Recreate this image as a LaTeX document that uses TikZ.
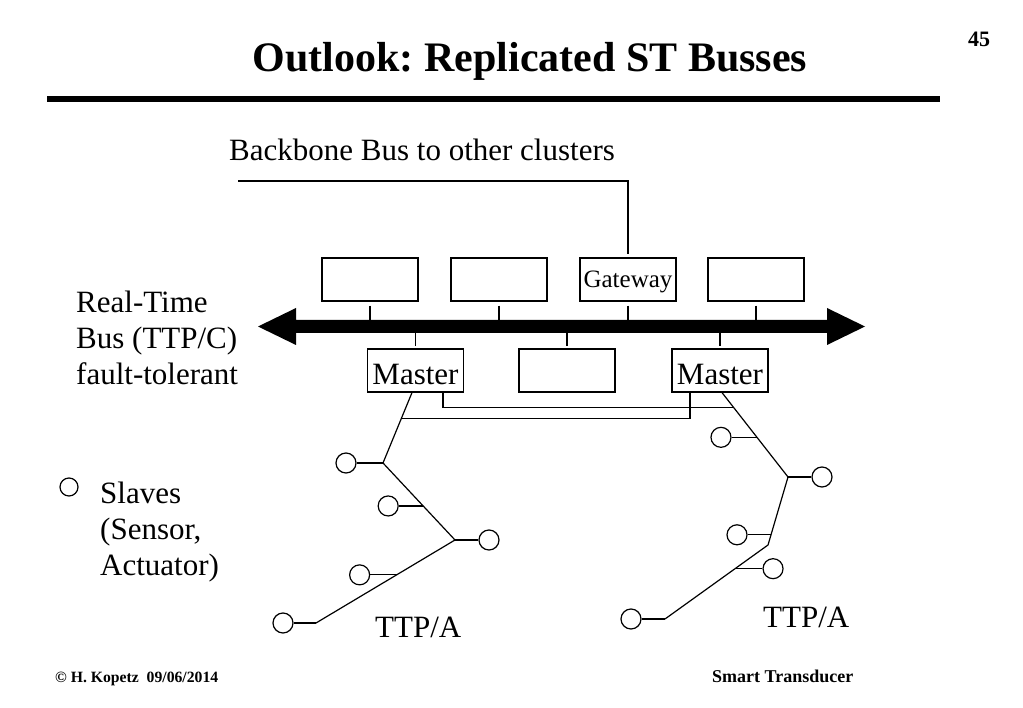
\documentclass[tikz,border=0pt]{standalone}
\usepackage{fontspec}
\setmainfont{Liberation Serif}
\frenchspacing
\begin{document}
\begin{tikzpicture}[x=1pt,y=-1pt,
  box/.style={draw, line width=1.2pt, minimum width=96pt, minimum height=43pt, inner sep=0pt},
  slave/.style={draw, circle, line width=1.2pt, minimum size=20pt, inner sep=0pt},
  wire/.style={line width=1.2pt},
  txt/.style={inner sep=0pt, font=\fontsize{31}{36}\selectfont},
  foot/.style={inner sep=0pt, anchor=base west, font=\bfseries\fontsize{16}{19}\selectfont}]
\useasboundingbox (0,0) rectangle (1023,708);
% title
\node[inner sep=0pt, anchor=base, font=\bfseries\fontsize{42}{48}\selectfont] (title) at (530,72) {Outlook: Replicated ST Busses};
\node[inner sep=0pt, anchor=base, font=\bfseries\fontsize{22}{26}\selectfont] (pg) at (979,47) {45};
\coordinate (rl) at (47,99);
\coordinate (rr) at (940,99);
\draw[line width=6pt] (rl) -- (rr);
% backbone label
\node[txt, anchor=base west] (bbl) at (229,161) {Backbone Bus to other clusters};
% boxes
\node[box] (b1) at (370,279.5) {};
\node[box] (b2) at (499,279.5) {};
\node[box, font=\fontsize{25}{30}\selectfont, text height=17pt, text depth=0pt] (gw) at (628,279.5) {Gateway};
\node[box] (b4) at (756,279.5) {};
\node[box, txt, draw, line width=1.2pt, minimum width=96pt, minimum height=43pt, text height=29pt, text depth=0pt] (m1) at (415.5,370.5) {Master};
\node[box] (mid) at (567,370.5) {};
\node[box, txt, draw, line width=1.2pt, minimum width=96pt, minimum height=43pt, text height=29pt, text depth=0pt] (m2) at (720,370.5) {Master};
% backbone
\coordinate (bb) at (238,181);
\draw[wire, shorten >=3pt] (bb) -- (bb -| gw.north) -- (gw.north);
% real-time bus
\coordinate (bustop) at (0,320);
\coordinate (busbot) at (0,333);
\fill (258,326.5) -- (296,308) -- (296,320) -- (827,320) -- (827,308) -- (865,326.5)
      -- (827,345) -- (827,333) -- (296,333) -- (296,345) -- cycle;
\foreach \n in {b1,b2,gw,b4}
  \draw[wire] ([yshift=-4pt]\n.south) -- (\n.south |- bustop);
\foreach \n in {m1,mid,m2}
  \draw[wire] (\n.north |- busbot) -- ([yshift=2pt]\n.north);
% left TTP/A tree
\coordinate (A0) at ([xshift=-3.5pt]m1.south);
\coordinate (A1) at (383,463);
\coordinate (A2) at (455,540);
\coordinate (A3) at (316,623);
\draw[wire] (A0) -- (A1) -- (A2) -- (A3);
\path (A0) -- (A1) coordinate[pos=0.366] (J1);
\path (A1) -- (A2) coordinate[pos=0.558] (a12);
\path (A2) -- (A3) coordinate[pos=0.42] (a23);
% right TTP/A tree
\coordinate (B0) at ([xshift=2pt]m2.south);
\coordinate (B1) at (788,477);
\coordinate (B2) at (768,545);
\coordinate (B3) at (665,619);
\draw[wire] (B0) -- (B1) -- (B2) -- (B3);
\path (B0) -- (B1) coordinate[pos=0.176] (J2) coordinate[pos=0.53] (b01);
\path (B1) -- (B2) coordinate[pos=0.85] (b12);
\path (B2) -- (B3) coordinate[pos=0.32] (b23);
% cross links between masters
\draw[wire] ([xshift=-30pt]m2.south) |- (J1);
\draw[wire] ([xshift=27.5pt]m1.south) |- (J2);
% slaves left
\node[slave] (s1) at ([xshift=-37pt]A1) {};
\node[slave] (s2) at ([xshift=-35pt]a12) {};
\node[slave] (s3) at ([xshift=34pt]A2) {};
\node[slave] (s4) at ([xshift=-37pt]a23) {};
\node[slave] (s5) at ([xshift=-33pt]A3) {};
\draw[wire] (A1) -- (s1);
\draw[wire] (a12) -- (s2);
\draw[wire] (A2) -- (s3);
\draw[wire] (a23) -- (s4);
\draw[wire] (A3) -- (s5);
% slaves right
\node[slave] (r1) at ([xshift=-36pt]b01) {};
\node[slave] (r2) at ([xshift=34pt]B1) {};
\node[slave] (r3) at ([xshift=-34pt]b12) {};
\node[slave] (r4) at ([xshift=38pt]b23) {};
\node[slave] (r5) at ([xshift=-34pt]B3) {};
\draw[wire] (b01) -- (r1);
\draw[wire] (B1) -- (r2);
\draw[wire] (b12) -- (r3);
\draw[wire] (b23) -- (r4);
\draw[wire] (B3) -- (r5);
% labels
\node[txt, anchor=base west] (ttpa1) at (375,637) {TTP/A};
\node[txt, anchor=base west] (ttpa2) at (763,627) {TTP/A};
\node[txt, anchor=base west] (rtb) at (76,313) {\begin{tabular}[t]{@{}l@{}}Real-Time\\Bus (TTP/C)\\fault-tolerant\end{tabular}};
\node[slave, minimum size=18pt] (leg) at (69,487) {};
\node[txt, anchor=base west] (slv) at (100,503) {\begin{tabular}[t]{@{}l@{}}Slaves\\(Sensor,\\Actuator)\end{tabular}};
% footer
\node[foot, font=\bfseries\fontsize{15.7}{19}\selectfont] (fl) at (55,682) {© H. Kopetz\ \ 09/06/2014};
\node[foot, font=\bfseries\fontsize{18}{21}\selectfont] (fr) at (712,682) {Smart Transducer};
\end{tikzpicture}
\end{document}
